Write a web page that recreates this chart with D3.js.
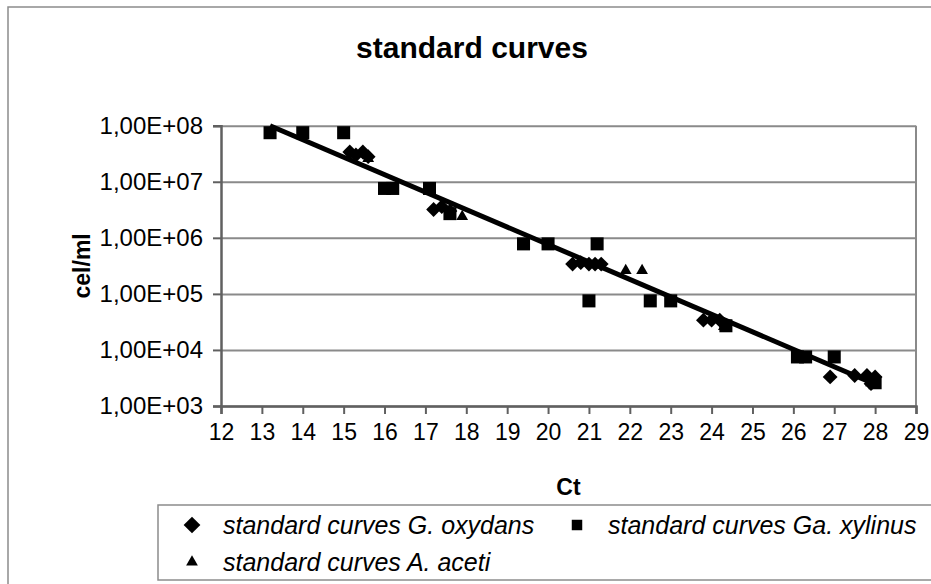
<!DOCTYPE html>
<html>
<head>
<meta charset="utf-8">
<script src="https://cdn.jsdelivr.net/npm/d3@7"></script>
<style>
body { margin: 0; background: #fff; }
svg { display: block; font-family: "Liberation Sans", Arial, sans-serif; }
</style>
</head>
<body>
<svg id="chart"></svg>
<script>
// G. oxydans (diamonds)
const oxydansCt  = [15.15, 15.3, 15.47, 15.6, 17.2, 17.4, 17.6, 20.6, 20.8, 21.0, 21.15, 21.3, 23.8, 24.0, 24.2, 26.9, 27.5, 27.8, 28.0, 27.9]
const oxydansVal = [3.4e7, 3.0e7, 3.4e7, 2.8e7, 3.2e6, 3.6e6, 3.0e6, 3.4e5, 3.6e5, 3.4e5, 3.4e5, 3.4e5, 3.4e4, 3.4e4, 3.4e4, 3.3e3, 3.5e3, 3.5e3, 3.3e3, 2.5e3]
// Ga. xylinus (squares)
const xylinusCt  = [13.2, 14.0, 15.0, 16.0, 16.2, 17.1, 17.6, 19.4, 20.0, 21.2, 21.0, 22.5, 23.0, 24.35, 26.1, 26.3, 27.0, 28.0]
const xylinusVal = [7.5e7, 7.5e7, 7.5e7, 7.6e6, 7.6e6, 7.6e6, 2.7e6, 7.8e5, 7.8e5, 7.8e5, 7.5e4, 7.5e4, 7.5e4, 2.7e4, 7.5e3, 7.5e3, 7.5e3, 2.6e3]
// A. aceti (triangles)
const acetiCt  = [15.6, 17.9, 21.9, 22.3, 24.3, 27.9]
const acetiVal = [2.6e7, 2.4e6, 2.6e5, 2.6e5, 2.6e4, 2.6e3]
// trend line end points
const trendCt  = [13.2, 28.0]
const trendVal = [1.0e8, 2.45e3]

const xTicks = [12, 13, 14, 15, 16, 17, 18, 19, 20, 21, 22, 23, 24, 25, 26, 27, 28, 29]
const yTicks = [1e3, 1e4, 1e5, 1e6, 1e7, 1e8]
const yTickLabels = ['1,00E+03', '1,00E+04', '1,00E+05', '1,00E+06', '1,00E+07', '1,00E+08']
const legendNames = ['standard curves G. oxydans', 'standard curves Ga. xylinus', 'standard curves A. aceti']

const W = 931, H = 584
const plot = {left: 221, right: 916, top: 125.7, bottom: 406}

const svg = d3.select('#chart').attr('width', W).attr('height', H)

// outer chart frame
svg.append('rect')
  .attr('x', 8).attr('y', 7)
  .attr('width', 960).attr('height', 620)
  .attr('fill', '#fff').attr('stroke', '#8c8c8c').attr('stroke-width', 1.5)

const x = d3.scaleLinear().domain([12, 29]).range([plot.left, plot.right])
const y = d3.scaleLog().domain([1e3, 1e8]).range([plot.bottom, plot.top])

// gridlines
svg.append('g')
  .attr('transform', `translate(${plot.left},0)`)
  .call(d3.axisLeft(y).tickValues(yTicks).tickSize(-(plot.right - plot.left)).tickFormat(''))
  .call(g => g.select('.domain').remove())
  .call(g => g.selectAll('line').attr('stroke', '#8a8a8a').attr('stroke-width', 2))

// plot border (right side)
svg.append('line')
  .attr('x1', plot.right).attr('x2', plot.right)
  .attr('y1', plot.top).attr('y2', plot.bottom)
  .attr('stroke', '#8a8a8a').attr('stroke-width', 2)

// y axis
const yAxis = svg.append('g')
  .attr('transform', `translate(${plot.left},0)`)
  .call(d3.axisLeft(y).tickValues(yTicks).tickSize(8).tickPadding(10)
    .tickFormat((d, i) => yTickLabels[i]))
yAxis.select('.domain').attr('stroke', '#606060').attr('stroke-width', 2.5)
yAxis.selectAll('line').attr('stroke', '#606060').attr('stroke-width', 2)
yAxis.selectAll('text').attr('font-size', 24).attr('fill', '#000')
  .attr('font-family', '"Liberation Sans", Arial, sans-serif')

// x axis
const xAxis = svg.append('g')
  .attr('transform', `translate(0,${plot.bottom})`)
  .call(d3.axisBottom(x).tickValues(xTicks).tickSize(8).tickPadding(10).tickFormat(d3.format('d')))
xAxis.select('.domain').attr('stroke', '#606060').attr('stroke-width', 2.5)
xAxis.selectAll('line').attr('stroke', '#606060').attr('stroke-width', 2)
xAxis.selectAll('text').attr('font-size', 23).attr('fill', '#000')
  .attr('font-family', '"Liberation Sans", Arial, sans-serif')

// titles
svg.append('text')
  .attr('x', 472).attr('y', 58)
  .attr('text-anchor', 'middle')
  .attr('font-size', 30).attr('font-weight', 'bold')
  .text('standard curves')

svg.append('text')
  .attr('x', (plot.left + plot.right) / 2).attr('y', 495)
  .attr('text-anchor', 'middle')
  .attr('font-size', 23).attr('font-weight', 'bold')
  .text('Ct')

svg.append('text')
  .attr('transform', `translate(90,${(plot.top + plot.bottom) / 2}) rotate(-90)`)
  .attr('text-anchor', 'middle')
  .attr('font-size', 23).attr('font-weight', 'bold')
  .text('cel/ml')

// markers
const diamond = d3.symbol().type(d3.symbolSquare).size(110)
const square = d3.symbol().type(d3.symbolSquare).size(170)
const triangle = d3.symbol().type(d3.symbolTriangle).size(60)

const marks = svg.append('g')

marks.selectAll('path.ox')
  .data(d3.zip(oxydansCt, oxydansVal))
  .join('path')
  .attr('class', 'ox')
  .attr('d', diamond)
  .attr('transform', d => `translate(${x(d[0])},${y(d[1])}) rotate(45)`)
  .attr('fill', '#000')

marks.selectAll('path.xy')
  .data(d3.zip(xylinusCt, xylinusVal))
  .join('path')
  .attr('class', 'xy')
  .attr('d', square)
  .attr('transform', d => `translate(${x(d[0])},${y(d[1])})`)
  .attr('fill', '#000')

marks.selectAll('path.ac')
  .data(d3.zip(acetiCt, acetiVal))
  .join('path')
  .attr('class', 'ac')
  .attr('d', triangle)
  .attr('transform', d => `translate(${x(d[0])},${y(d[1])})`)
  .attr('fill', '#000')

// trend line
svg.append('path')
  .datum(d3.zip(trendCt, trendVal))
  .attr('d', d3.line().x(d => x(d[0])).y(d => y(d[1])))
  .attr('stroke', '#000').attr('stroke-width', 5).attr('fill', 'none')

// legend
const legend = svg.append('g')
legend.append('rect')
  .attr('x', 158).attr('y', 505)
  .attr('width', 800).attr('height', 75)
  .attr('fill', '#fff').attr('stroke', '#8c8c8c').attr('stroke-width', 1.5)

const legendPos = [[192, 525], [577, 525], [192, 562]]
const legendSym = [
  d3.symbol().type(d3.symbolSquare).size(140),
  d3.symbol().type(d3.symbolSquare).size(110),
  d3.symbol().type(d3.symbolTriangle).size(60)
]

legendNames.forEach((name, i) => {
  const [lx, ly] = legendPos[i]
  legend.append('path')
    .attr('d', legendSym[i])
    .attr('transform', `translate(${lx},${ly})` + (i === 0 ? ' rotate(45)' : ''))
    .attr('fill', '#000')
  legend.append('text')
    .attr('x', lx + 31).attr('y', ly)
    .attr('dy', '0.35em')
    .attr('font-size', 25).attr('font-style', 'italic')
    .text(name)
})
</script>
</body>
</html>
